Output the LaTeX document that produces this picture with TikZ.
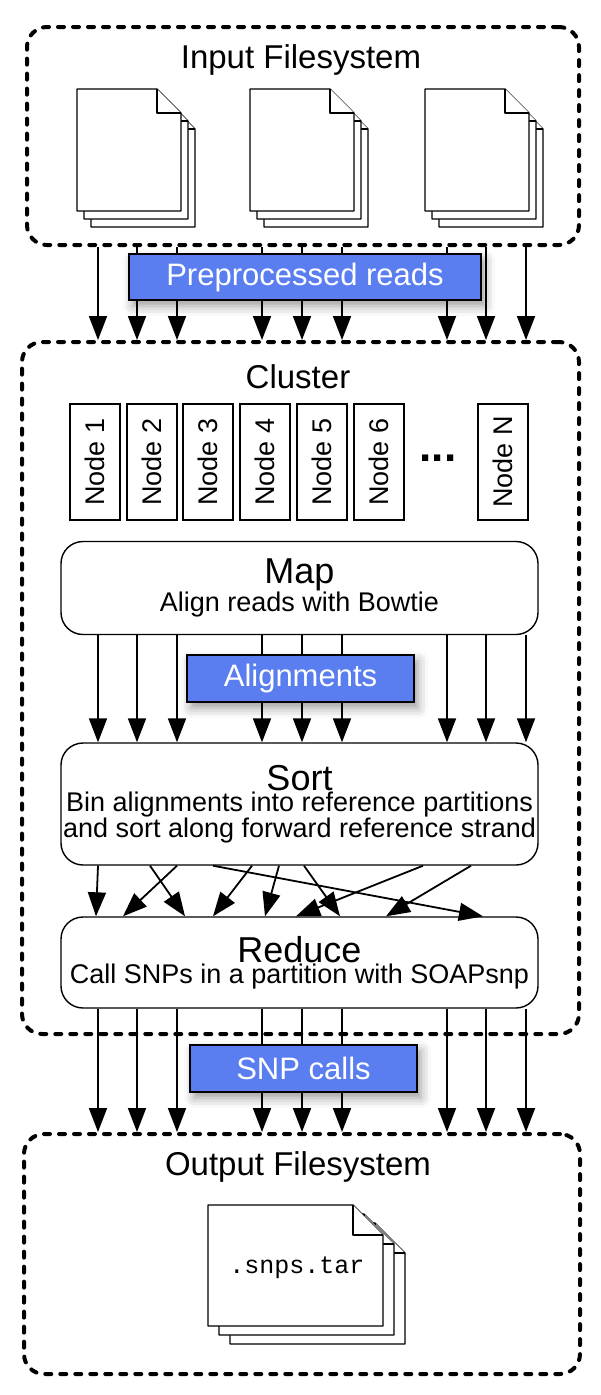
\documentclass[tikz,border=0pt]{standalone}
\usepackage{fontspec}
\setmainfont{Liberation Sans}
\setmonofont{Liberation Mono}
\usepackage{tikz}
\usetikzlibrary{arrows.meta,positioning,shadows.blur}
\definecolor{stepblue}{RGB}{90,126,240}

% page stack: x, y (top left), width, height, fold, dx, dy
\newcommand{\pagestack}[7]{%
  \foreach \k in {2,1,0}{%
    \pgfmathsetmacro{\px}{#1+\k*#6}\pgfmathsetmacro{\py}{#2+\k*#7}%
    \draw[page] (\px,\py) -- ++(#3-#5,0) -- ++(#5,#5) -- ++(0,#4-#5) -- ++(-#3,0) -- cycle;
    \draw[page] (\px+#3-#5,\py) -- ++(0,#5) -- ++(#5,0);
  }%
}

\begin{document}
\begin{tikzpicture}[x=1pt,y=-1pt]
  \tikzset{fsbox/.style = {draw, line width=4pt, dash pattern=on 6pt off 9pt, line cap=round, rounded corners=20pt, anchor=north west, inner sep=0pt}}
  \tikzset{fstitle/.style = {font=\fontsize{33}{38}\selectfont}}
  \tikzset{stage/.style = {draw, line width=1.4pt, rounded corners=22pt, fill=white, minimum width=477pt, align=center, inner sep=0pt}}
  \tikzset{datalabel/.style = {draw, line width=1.4pt, fill=stepblue, text=white, font=\fontsize{31}{36}\selectfont, blur shadow={shadow xshift=4pt, shadow yshift=-6pt, shadow blur radius=10pt}, inner sep=0pt}}
  \tikzset{machine/.style = {draw, line width=1.4pt, minimum width=50pt, minimum height=116pt, inner sep=0pt}}
  \tikzset{page/.style = {draw, line width=1.4pt, fill=white, line join=round}}
  \tikzset{arr/.style = {line width=1.8pt, -{Triangle[length=24pt,width=18pt]}}}

  \useasboundingbox (0,0) rectangle (600,1395);

  % containers
  \node[fsbox, minimum width=552pt, minimum height=218pt] (input) at (25,25) {};
  \node[fsbox, minimum width=557pt, minimum height=692pt] (cluster) at (20,340) {};
  \node[fsbox, minimum width=556pt, minimum height=240pt] (output) at (22,1132) {};

  \node[fstitle] (intitle) at (301,60) {Input Filesystem};
  \node[fstitle] (cltitle) at (298,377) {Cluster};
  \node[fstitle] (outtitle) at (298,1167) {Output Filesystem};

  % input files
  \pagestack{77}{89}{104}{122}{24}{7}{8}
  \pagestack{250}{89}{104}{122}{24}{7}{8}
  \pagestack{425}{89}{104}{122}{24}{7}{8}

  % nodes of the cluster
  \foreach \n/\x in {1/95, 2/152, 3/208, 4/265, 5/322, 6/379, N/503}
    \node[machine] (node\n) at (\x,462) {\rotatebox{90}{\fontsize{27}{30}\selectfont Node \n}};
  \node[font=\fontsize{44}{48}\selectfont\bfseries] (dots) at (438,458) {...};

  % stages
  \node[stage, minimum height=93pt] (map) at (299.5,588) {{\fontsize{36}{40}\selectfont Map}\\[0pt]{\fontsize{27}{31}\selectfont Align reads with Bowtie}};
  \node[stage, minimum height=122pt] (sort) at (299.5,804) {{\fontsize{36}{40}\selectfont Sort}\\[0pt]{\fontsize{27}{31}\selectfont Bin alignments into reference partitions}\\[0pt]{\fontsize{27}{31}\selectfont and sort along forward reference strand}};
  \node[stage, minimum height=91pt] (reduce) at (299.5,962.5) {{\fontsize{36}{40}\selectfont Reduce}\\[0pt]{\fontsize{27}{31}\selectfont Call SNPs in a partition with SOAPsnp}};

  % output file
  \pagestack{208}{1205}{175}{121}{30}{11}{9}
  \node[font=\fontsize{25}{28}\ttfamily] (tar) at (297,1268) {.snps.tar};

  % data flow
  \foreach \x in {98,137,177,262,302,342,447,486,526}{
    \draw[arr] (input.south -| \x,0) -- (cluster.north -| \x,0);
    \draw[arr] (map.south -| \x,0) -- (sort.north -| \x,0);
    \draw[arr] (reduce.south -| \x,0) -- (output.north -| \x,0);
  }
  \foreach \from/\to in {98/96, 177/123, 150/185, 252/213, 279/265, 304/340, 213/483, 423/296, 471/386}
    \draw[arr] (sort.south -| \from,0) -- (reduce.north -| \to,0);

  % data labels
  \node[datalabel, minimum width=352pt, minimum height=46pt] (reads) at (305,277) {Preprocessed reads};
  \node[datalabel, minimum width=227pt, minimum height=47pt] (aligns) at (300.5,678.5) {Alignments};
  \node[datalabel, minimum width=227pt, minimum height=47pt] (calls) at (303.5,1068.5) {SNP calls};
\end{tikzpicture}
\end{document}
